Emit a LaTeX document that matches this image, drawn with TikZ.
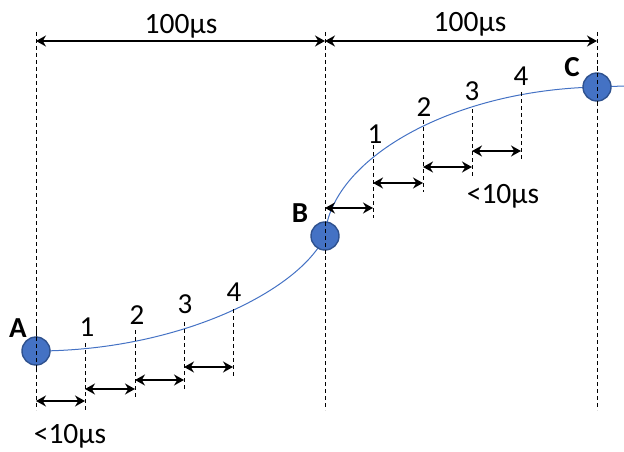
\documentclass[tikz,border=0pt]{standalone}
\usepackage{fontspec}
\setmainfont{Carlito}
\usepackage{tikz}
\usetikzlibrary{arrows.meta, positioning}
\definecolor{ptfill}{HTML}{4472C4}
\definecolor{ptdraw}{HTML}{2F528F}
\definecolor{curveblue}{HTML}{4472C4}
\tikzset{
  guide/.style={
    draw=black, line width=0.9pt,
    dash pattern=on 4pt off 3pt
  },
  dim arrow/.style={
    {Stealth[length=10pt,width=11pt]}-{Stealth[length=10pt,width=11pt]},
    line width=1.4pt, black
  },
  point dot/.style={
    circle, fill=ptfill, draw=ptdraw, line width=1.4pt,
    minimum size=28pt, inner sep=0pt
  },
  point label/.style={
    font=\fontsize{29}{34}\selectfont\bfseries, inner sep=0pt
  },
  tick label/.style={
    font=\fontsize{29}{34}\selectfont, inner sep=0pt
  },
  time label/.style={
    font=\fontsize{29.5}{34}\selectfont, inner sep=0pt
  },
  curve/.style={draw=curveblue, line width=1pt}
}

\begin{document}
\begin{tikzpicture}[x=1pt, y=-1pt]
  \useasboundingbox (0,0) rectangle (624,452);

  % Main guides
  \draw[guide] (36,32) -- (36,410);
  \draw[guide] (325,32) -- (325,410);
  \draw[guide] (597,32) -- (597,410);

  % Curve
  \coordinate (A) at (36,351);
  \coordinate (B) at (325,236);
  \coordinate (C) at (597,87);
  \draw[curve] (A) .. controls (180,351) and (300,290) .. (B)
                   .. controls (330,160) and (450,90) .. (C) -- (624,86);

  % Points
  \node[point dot] (ptA) at (A) {};
  \node[point dot] (ptB) at (B) {};
  \node[point dot] (ptC) at (C) {};
  \draw[guide] (36,330) -- (36,372);
  \draw[guide] (325,215) -- (325,257);
  \draw[guide] (597,66) -- (597,108);
  \node[point label] (labA) at (18,328) {A};
  \node[point label] (labB) at (300,213) {B};
  \node[point label] (labC) at (572,67) {C};

  % Top spans
  \node[time label] (spanAB) at (181,26) {100μs};
  \node[time label] (spanBC) at (470,24) {100μs};
  \draw[dim arrow] (ptA |- 0,41) -- (ptB |- 0,41);
  \draw[dim arrow] (ptB |- 0,41) -- (ptC |- 0,41);

  % Steps after A
  \node[tick label] (a1) at (87,327) {1};
  \node[tick label] (a2) at (137,315) {2};
  \node[tick label] (a3) at (185,304) {3};
  \node[tick label] (a4) at (234,292) {4};
  \draw[guide] (85,343) -- (85,410);
  \draw[guide] (135,330) -- (135,399);
  \draw[guide] (184,322) -- (184,390);
  \draw[guide] (233,309) -- (233,377);
  \draw[dim arrow] (ptA |- 0,401) -- (85,401);
  \draw[dim arrow] (85,389) -- (135,389);
  \draw[dim arrow] (135,380) -- (184,380);
  \draw[dim arrow] (184,367) -- (233,367);
  \node[time label] (stepA) at (70,436) {<10μs};

  % Steps after B
  \node[tick label] (b1) at (375,134) {1};
  \node[tick label] (b2) at (424,107) {2};
  \node[tick label] (b3) at (472,91) {3};
  \node[tick label] (b4) at (521,76) {4};
  \draw[guide] (373,145) -- (373,218);
  \draw[guide] (423,120) -- (423,192);
  \draw[guide] (472,109) -- (472,177);
  \draw[guide] (521,92) -- (521,160);
  \draw[dim arrow] (ptB |- 0,208) -- (373,208);
  \draw[dim arrow] (373,183) -- (423,183);
  \draw[dim arrow] (423,167) -- (472,167);
  \draw[dim arrow] (472,151) -- (521,151);
  \node[time label] (stepB) at (503,196) {<10μs};
\end{tikzpicture}
\end{document}
